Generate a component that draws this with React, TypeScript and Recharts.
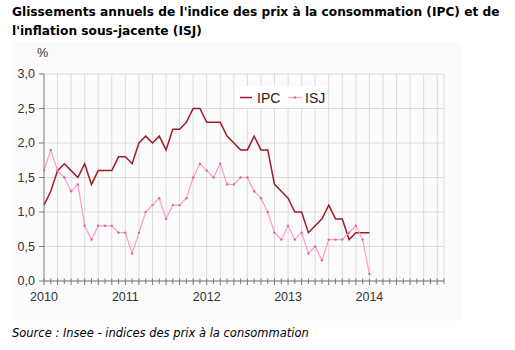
import React from 'react';
import { LineChart, Line, XAxis, YAxis, CartesianGrid, ReferenceLine } from 'recharts';

// Monthly data, Jan 2010 .. Jan 2014 (index 0 = Jan 2010)
const ipcValues = [
  1.1, 1.3, 1.6, 1.7, 1.6, 1.5, 1.7, 1.4, 1.6, 1.6, 1.6, 1.8,
  1.8, 1.7, 2.0, 2.1, 2.0, 2.1, 1.9, 2.2, 2.2, 2.3, 2.5, 2.5,
  2.3, 2.3, 2.3, 2.1, 2.0, 1.9, 1.9, 2.1, 1.9, 1.9, 1.4, 1.3,
  1.2, 1.0, 1.0, 0.7, 0.8, 0.9, 1.1, 0.9, 0.9, 0.6, 0.7, 0.7,
  0.7,
];
const isjValues = [
  1.6, 1.9, 1.6, 1.5, 1.3, 1.4, 0.8, 0.6, 0.8, 0.8, 0.8, 0.7,
  0.7, 0.4, 0.7, 1.0, 1.1, 1.2, 0.9, 1.1, 1.1, 1.2, 1.5, 1.7,
  1.6, 1.5, 1.7, 1.4, 1.4, 1.5, 1.5, 1.3, 1.2, 1.0, 0.7, 0.6,
  0.8, 0.6, 0.7, 0.4, 0.5, 0.3, 0.6, 0.6, 0.6, 0.7, 0.8, 0.6,
  0.1,
];
const yearLabels = ['2010', '2011', '2012', '2013', '2014'];
const yTicks = [0, 0.5, 1, 1.5, 2, 2.5, 3];
const monthsOnAxis = 60; // Jan 2010 .. Dec 2014

const monthIndex = ipcValues.map((_, i) => i);
const data = monthIndex.map((m) => ({ m, ipc: ipcValues[m], isj: isjValues[m] }));
const xTicks = Array.from({ length: monthsOnAxis }, (_, i) => i);
const gridMonths = xTicks.filter((i) => i % 2 === 0 && i > 0).concat([monthsOnAxis - 1]);

const IPC_COLOR = '#9c1c28';
const ISJ_COLOR = '#ff9ac8';
const ISJ_DOT = '#d86a98';
const AXIS = '#7a7a7a';
const GRID = '#dcdcdc';
const SANS = '"Liberation Sans", Arial, sans-serif';

const MonthTick = (props: any) => {
  const { x, y, payload } = props;
  const v = payload.value as number;
  const even = v % 2 === 0;
  return (
    <g>
      <line x1={x} x2={x} y1={y - 2.5} y2={y + (even ? 4 : 3)} stroke={AXIS} strokeWidth={1} />
      {v % 12 === 0 && yearLabels[v / 12] ? (
        <text x={x} y={y + 20} textAnchor="middle" fontSize={12.5} fontFamily={SANS} fill="#333">
          {yearLabels[v / 12]}
        </text>
      ) : null}
    </g>
  );
};

export default function App() {
  return (
    <div style={{ position: 'absolute', left: 0, top: 0, width: 515, height: 350, background: '#fff', overflow: 'hidden' }}>
      <div
        style={{
          position: 'absolute', left: 12, top: 3, width: 503, whiteSpace: 'nowrap',
          fontFamily: '"DejaVu Sans", Verdana, sans-serif', fontWeight: 'bold', fontSize: 12.2, lineHeight: '19px', color: '#000',
        }}
      >
        Glissements annuels de l'indice des prix à la consommation (IPC) et de
        <br />
        l'inflation sous-jacente (ISJ)
      </div>
      <div style={{ position: 'absolute', left: 12, top: 42, width: 449, height: 279, background: '#fbfbfb' }} />
      <div style={{ position: 'absolute', left: 37, top: 46, fontFamily: SANS, fontSize: 12.5, color: '#333' }}>%</div>
      <div style={{ position: 'absolute', left: 0, top: 0 }}>
        <LineChart width={515} height={350} data={data} margin={{ top: 74, right: 71, bottom: 39, left: 0 }}>
          <CartesianGrid vertical={false} stroke={GRID} />
          {gridMonths.map((g) => (
            <ReferenceLine key={g} x={g} stroke={GRID} strokeWidth={1} />
          ))}
          <XAxis
            dataKey="m"
            type="number"
            domain={[0, monthsOnAxis - 1]}
            ticks={xTicks}
            interval={0}
            tickLine={false}
            tickSize={0}
            tickMargin={0}
            axisLine={{ stroke: AXIS }}
            tick={<MonthTick />}
            height={30}
          />
          <YAxis
            type="number"
            domain={[0, 3]}
            ticks={yTicks}
            interval={0}
            width={44}
            tickFormatter={(v: number) => v.toFixed(1).replace('.', ',')}
            axisLine={{ stroke: AXIS }}
            tickLine={{ stroke: AXIS }}
            tickSize={5}
            tickMargin={4}
            tick={{ fill: '#333', fontSize: 12.5, fontFamily: SANS }}
          />
          <Line type="linear" dataKey="ipc" stroke={IPC_COLOR} strokeWidth={1.5} dot={false} isAnimationActive={false} />
          <Line
            type="linear"
            dataKey="isj"
            stroke={ISJ_COLOR}
            strokeWidth={1.2}
            dot={{ r: 1.2, fill: ISJ_DOT, stroke: 'none' }}
            isAnimationActive={false}
          />
        </LineChart>
      </div>
      <div style={{ position: 'absolute', left: 236, top: 86, width: 91, height: 22, background: '#fff' }}>
        <svg width={91} height={22} style={{ position: 'absolute', left: 0, top: 0 }}>
          <line x1={4} x2={16} y1={11.5} y2={11.5} stroke={IPC_COLOR} strokeWidth={1.5} />
          <text x={21} y={16.5} fontSize={14} fontFamily={SANS} fill="#222">IPC</text>
          <line x1={52} x2={66} y1={11.5} y2={11.5} stroke={ISJ_COLOR} strokeWidth={1.2} />
          <circle cx={59} cy={11.5} r={1.2} fill={ISJ_DOT} />
          <text x={69} y={16.5} fontSize={14} fontFamily={SANS} fill="#222">ISJ</text>
        </svg>
      </div>
      <div
        style={{
          position: 'absolute', left: 12, top: 326, whiteSpace: 'nowrap',
          fontFamily: '"DejaVu Sans", Verdana, sans-serif', fontStyle: 'italic', fontSize: 11.5, color: '#000',
        }}
      >
        Source : Insee - indices des prix à la consommation
      </div>
    </div>
  );
}
